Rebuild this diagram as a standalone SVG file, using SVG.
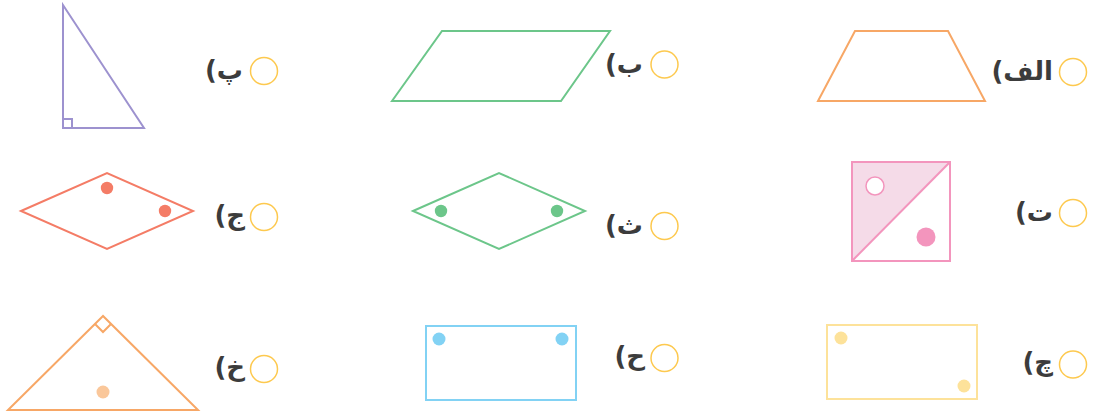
<svg xmlns="http://www.w3.org/2000/svg" width="1100" height="414" viewBox="0 0 1100 414">
<style>
.shape{fill:none;stroke-width:2;stroke-linejoin:miter}
.opt{fill:#fff;stroke:#fdc94f;stroke-width:1.5}
.lbl{font-family:"DejaVu Sans",sans-serif;font-size:26px;font-weight:bold;fill:#3c3c3c;direction:rtl;text-anchor:start}
</style>
<rect width="1100" height="414" fill="#fff"/>
<g id="alef">
<polygon class="shape" stroke="#f7a766" points="818,101 855,31 948,31 985,101"/>
<circle class="opt" cx="1073" cy="72" r="13.5"/>
<text class="lbl" x="1053" y="80">الف)</text>
</g>
<g id="be">
<polygon class="shape" stroke="#6cc68a" points="392,101 442,31 610,31 561,101"/>
<circle class="opt" cx="664.5" cy="64.5" r="13.5"/>
<text class="lbl" x="643" y="73">ب)</text>
</g>
<g id="pe">
<polygon class="shape" stroke="#9d92cf" points="63,5 63,128 144,128"/>
<polyline class="shape" stroke="#9d92cf" stroke-width="1.5" points="63,119 72,119 72,128"/>
<circle class="opt" cx="264" cy="71" r="13.5"/>
<text class="lbl" x="243" y="79">پ)</text>
</g>
<g id="te">
<polygon fill="#f5dbe8" points="852,162 950,162 852,261"/>
<rect class="shape" stroke="#f395bd" x="852" y="162" width="98" height="99"/>
<line class="shape" stroke="#f395bd" x1="852" y1="261" x2="950" y2="162"/>
<circle cx="875" cy="186" r="9" fill="#fff" stroke="#f395bd" stroke-width="1.5"/>
<circle cx="926" cy="237" r="9.5" fill="#f395bd"/>
<circle class="opt" cx="1073" cy="213" r="13.5"/>
<text class="lbl" x="1053" y="221">ت)</text>
</g>
<g id="se">
<polygon class="shape" stroke="#6cc68a" points="413,211 499,173 585,211 499,249"/>
<circle cx="441" cy="211" r="6.2" fill="#6cc68a"/>
<circle cx="557" cy="211" r="6.2" fill="#6cc68a"/>
<circle class="opt" cx="664.5" cy="226" r="13.5"/>
<text class="lbl" x="643" y="234">ث)</text>
</g>
<g id="jim">
<polygon class="shape" stroke="#f47c66" points="21,211 107,173 193,211 107,249"/>
<circle cx="107" cy="188" r="6.2" fill="#f47c66"/>
<circle cx="165" cy="211" r="6.2" fill="#f47c66"/>
<circle class="opt" cx="264" cy="217" r="13.5"/>
<text class="lbl" x="245" y="224">ج)</text>
</g>
<g id="che">
<rect class="shape" stroke="#fde29a" x="827" y="325" width="150" height="74"/>
<circle cx="841" cy="338" r="6.5" fill="#fde29a"/>
<circle cx="964" cy="386" r="6.5" fill="#fde29a"/>
<circle class="opt" cx="1073" cy="364.5" r="13.5"/>
<text class="lbl" x="1053" y="371">چ)</text>
</g>
<g id="he">
<rect class="shape" stroke="#82d2f4" x="426" y="326" width="150" height="74"/>
<circle cx="439" cy="339" r="6.5" fill="#82d2f4"/>
<circle cx="562" cy="339" r="6.5" fill="#82d2f4"/>
<circle class="opt" cx="664.5" cy="358" r="13.5"/>
<text class="lbl" x="645" y="365">ح)</text>
</g>
<g id="khe">
<polygon class="shape" stroke="#f7a766" points="103,316 8,410 198,410"/>
<polyline class="shape" stroke="#f7a766" stroke-width="1.5" points="95,324 103,332 111,324"/>
<circle cx="103" cy="392" r="6.5" fill="#fac79a"/>
<circle class="opt" cx="264" cy="369" r="13.5"/>
<text class="lbl" x="245" y="376">خ)</text>
</g>
<g id="connectors"></g>
</svg>
